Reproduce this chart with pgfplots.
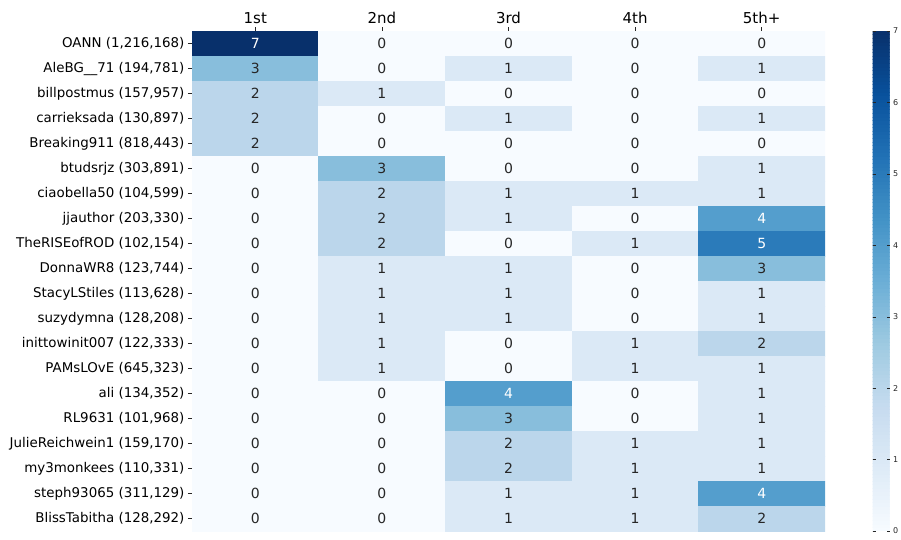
\documentclass[border=0pt]{standalone}
\usepackage{pgfplots}
\pgfplotsset{compat=1.18}
\usepackage{pgfplotstable}
\usepackage{fontspec}
\setmainfont{DejaVu Sans}
\definecolor{txtdark}{HTML}{262626}
\pgfplotstableread{
x y v
0 0 7
1 0 0
2 0 0
3 0 0
4 0 0
0 1 3
1 1 0
2 1 1
3 1 0
4 1 1
0 2 2
1 2 1
2 2 0
3 2 0
4 2 0
0 3 2
1 3 0
2 3 1
3 3 0
4 3 1
0 4 2
1 4 0
2 4 0
3 4 0
4 4 0
0 5 0
1 5 3
2 5 0
3 5 0
4 5 1
0 6 0
1 6 2
2 6 1
3 6 1
4 6 1
0 7 0
1 7 2
2 7 1
3 7 0
4 7 4
0 8 0
1 8 2
2 8 0
3 8 1
4 8 5
0 9 0
1 9 1
2 9 1
3 9 0
4 9 3
0 10 0
1 10 1
2 10 1
3 10 0
4 10 1
0 11 0
1 11 1
2 11 1
3 11 0
4 11 1
0 12 0
1 12 1
2 12 0
3 12 1
4 12 2
0 13 0
1 13 1
2 13 0
3 13 1
4 13 1
0 14 0
1 14 0
2 14 4
3 14 0
4 14 1
0 15 0
1 15 0
2 15 3
3 15 0
4 15 1
0 16 0
1 16 0
2 16 2
3 16 1
4 16 1
0 17 0
1 17 0
2 17 2
3 17 1
4 17 1
0 18 0
1 18 0
2 18 1
3 18 1
4 18 4
0 19 0
1 19 0
2 19 1
3 19 1
4 19 2
}\heat
\pgfplotsset{
  colormap={Blues}{
    rgb255=(247,251,255)
    rgb255=(222,235,247)
    rgb255=(198,219,239)
    rgb255=(158,202,225)
    rgb255=(107,174,214)
    rgb255=(66,146,198)
    rgb255=(33,113,181)
    rgb255=(8,81,156)
    rgb255=(8,48,107)
  }
}
\begin{document}
\begin{tikzpicture}
\begin{axis}[
  name=main,
  at={(0,0)}, anchor=south west,
  scale only axis,
  width=633pt, height=500pt,
  xmin=-0.5, xmax=4.5, ymin=-0.5, ymax=19.5,
  y dir=reverse,
  /pgf/number format/assume math mode=true,
  axis line style={draw=none},
  xtick={0,...,4},
  xticklabels={1st,2nd,3rd,4th,5th+},
  xtick pos=right, xticklabel pos=right,
  ytick={0,...,19},
  yticklabels={OANN (1{,}216{,}168),AleBG\_\_71 (194{,}781),billpostmus (157{,}957),carrieksada (130{,}897),Breaking911 (818{,}443),btudsrjz (303{,}891),ciaobella50 (104{,}599),jjauthor (203{,}330),TheRISEofROD (102{,}154),DonnaWR8 (123{,}744),StacyLStiles (113{,}628),suzydymna (128{,}208),inittowinit007 (122{,}333),PAMsLOvE (645{,}323),ali (134{,}352),RL9631 (101{,}968),JulieReichwein1 (159{,}170),my3monkees (110{,}331),steph93065 (311{,}129),BlissTabitha (128{,}292)},
  ytick pos=left, yticklabel pos=left,
  tick align=outside,
  major tick length=4pt,
  tick style={txtdark, line width=0.6pt},
  xticklabel style={font=\fontsize{15}{17}\selectfont, text=black},
  yticklabel style={font=\fontsize{13.4}{15}\selectfont, text=black},
  colormap name=Blues,
  point meta min=0, point meta max=7,
  colorbar sampled,
  colorbar style={
    samples=141,
    xshift=39pt,
    width=17pt,
    ytick={0,...,7},
    axis line style={draw=none},
    major tick length=3pt,
    tick style={txtdark, line width=0.4pt},
    yticklabel style={font=\fontsize{8}{9}\selectfont, text=txtdark},
    /pgf/number format/assume math mode=true,
  },
]
\addplot[matrix plot*, mesh/cols=5, mesh/ordering=x varies, point meta=\thisrow{v}] table[x=x,y=y] {\heat};
\addplot[draw=none, mark=none, nodes near coords, nodes near coords align=center,
  point meta=\thisrow{v}, restrict expr to domain={\thisrow{v}}{0:3.5},
  nodes near coords style={text=txtdark, font=\fontsize{14}{16}\selectfont, anchor=center}]
  table[x=x,y=y] {\heat};
\addplot[draw=none, mark=none, nodes near coords, nodes near coords align=center,
  point meta=\thisrow{v}, restrict expr to domain={\thisrow{v}}{3.5:10},
  nodes near coords style={text=white, font=\fontsize{14}{16}\selectfont, anchor=center}]
  table[x=x,y=y] {\heat};
\end{axis}
\pgfresetboundingbox
\path ([shift={(-192pt,-8pt)}]main.south west) rectangle ([shift={(76pt,31pt)}]main.north east);
\end{tikzpicture}
\end{document}
